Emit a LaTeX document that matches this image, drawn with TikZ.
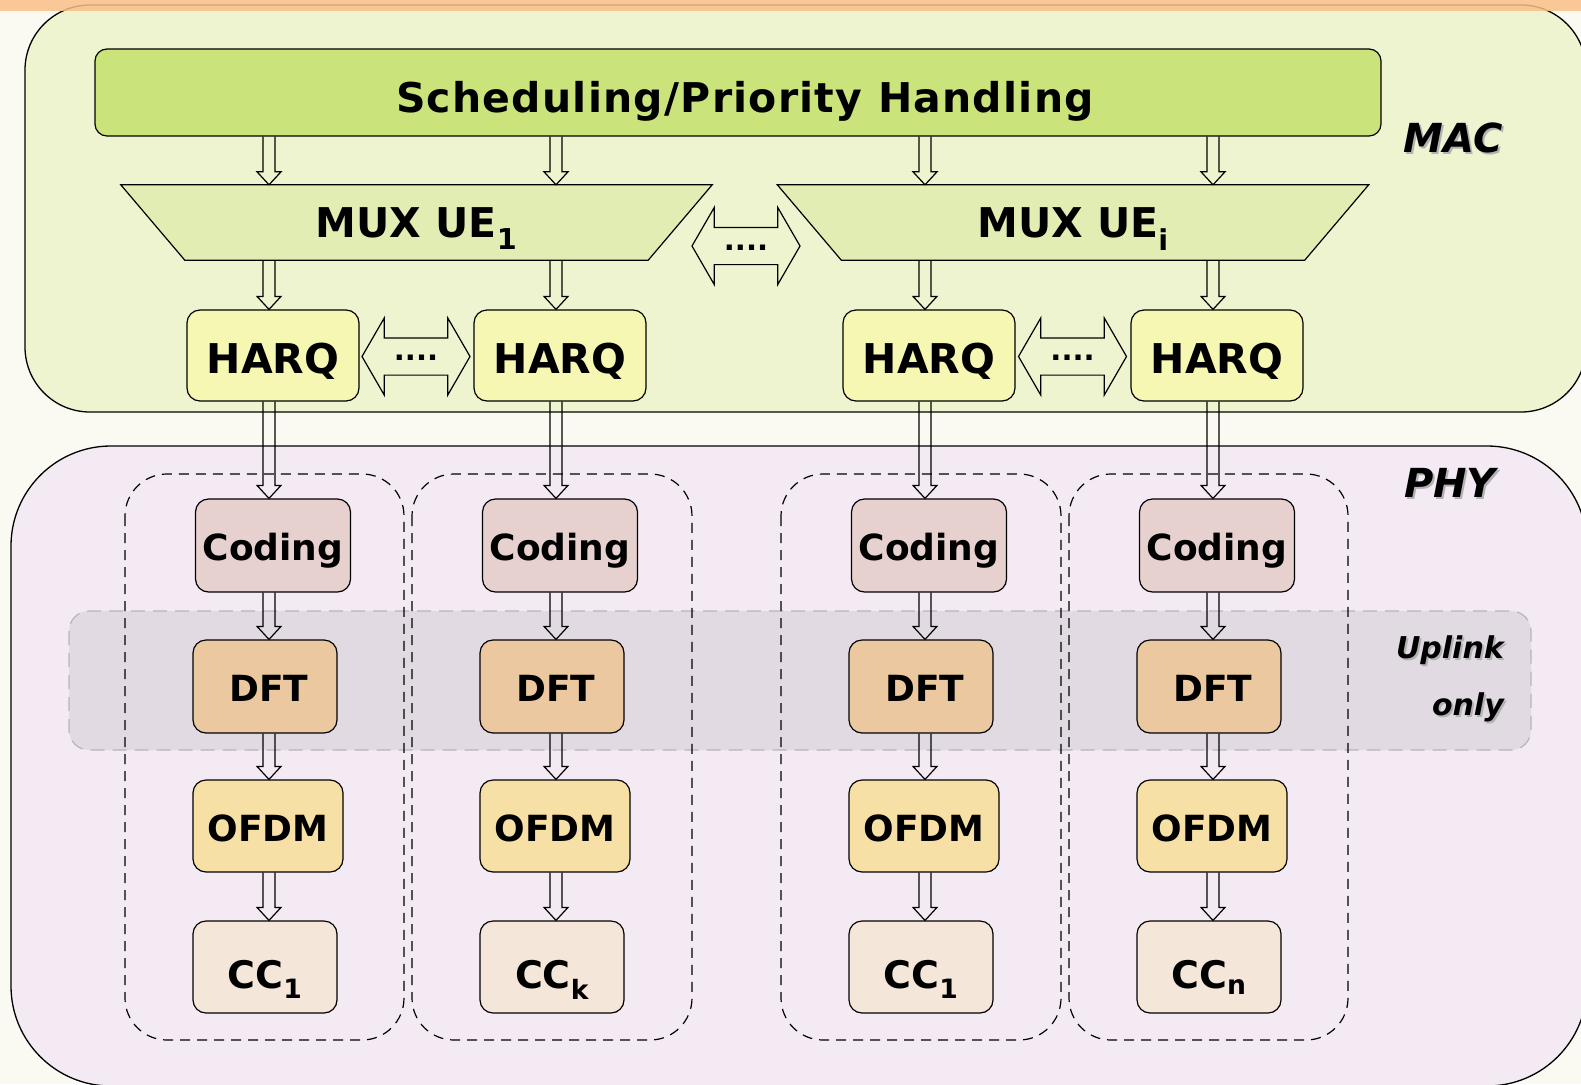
\documentclass[tikz,border=0pt]{standalone}
\usepackage{fontspec}
\setmainfont{DejaVu Sans}
\usetikzlibrary{positioning, calc, shapes.arrows, backgrounds}

\definecolor{PageBg}{RGB}{250,250,242}
\definecolor{TopStrip}{RGB}{250,191,136}
\definecolor{MacBg}{RGB}{237,244,207}
\definecolor{PhyBg}{RGB}{244,234,243}
\definecolor{SchedGreen}{RGB}{202,227,123}
\definecolor{MuxGreen}{RGB}{226,237,179}
\definecolor{HarqYellow}{RGB}{245,247,178}
\definecolor{CodingRose}{RGB}{230,209,207}
\definecolor{DftTan}{RGB}{235,200,160}
\definecolor{OfdmSand}{RGB}{247,224,166}
\definecolor{CcPeach}{RGB}{245,230,218}
\definecolor{BandFill}{RGB}{226,218,227}
\definecolor{BandBorder}{RGB}{185,178,195}

\pgfdeclarelayer{back}
\pgfsetlayers{back,background,main}

\newcommand{\shadowed}[1]{\makebox[0pt][l]{\hspace{2pt}\raisebox{-2pt}{\color{black!30}#1}}#1}

% open double-line arrow: column coordinate, from node, to node
\newcommand{\hollowarrow}[3]{%
  \path[hollowline] let \p1=(#1), \p2=(#2.south), \p3=(#3.north) in
    (\x1-6pt,\y2) -- (\x1-6pt,\y3+13pt) -- (\x1-12pt,\y3+13pt) -- (\x1,\y3)
    -- (\x1+12pt,\y3+13pt) -- (\x1+6pt,\y3+13pt) -- (\x1+6pt,\y2);}

\begin{document}
\begin{tikzpicture}[
    x=1pt, y=-1pt,
    blockbox/.style={rectangle, draw, line width=1.2pt, rounded corners=13pt, align=center, inner sep=0pt, text depth=0pt, text height=30pt, font=\bfseries\fontsize{36}{40}\selectfont},
    schedbox/.style={blockbox, fill=SchedGreen, minimum width=1286pt, minimum height=87pt, rounded corners=12pt, text height=40pt, font=\bfseries\fontsize{41}{45}\selectfont\addfontfeatures{LetterSpace=3}},
    muxbox/.style={rectangle, inner sep=0pt, minimum width=463pt, minimum height=75pt, text depth=0pt, text height=30pt, font=\bfseries\fontsize{41}{45}\selectfont},
    muxshape/.style={draw, line width=1.2pt, fill=MuxGreen, line join=miter},
    harqbox/.style={blockbox, fill=HarqYellow, minimum width=172pt, minimum height=91pt, text height=35pt, font=\bfseries\fontsize{41}{45}\selectfont},
    codingbox/.style={blockbox, fill=CodingRose, minimum width=155pt, minimum height=93pt},
    dftbox/.style={blockbox, fill=DftTan, minimum width=144pt, minimum height=93pt},
    ofdmbox/.style={blockbox, fill=OfdmSand, minimum width=150pt, minimum height=92pt},
    ccbox/.style={blockbox, fill=CcPeach, minimum width=144pt, minimum height=92pt, text height=42pt, font=\bfseries\fontsize{38}{42}\selectfont},
    dotsarrow/.style={double arrow, draw, line width=1.2pt, minimum height=108pt, minimum width=76pt, double arrow head extend=20pt, double arrow head indent=0pt, double arrow tip angle=120, inner sep=0pt, text height=22pt, text depth=14pt, font=\bfseries\fontsize{29}{29}\selectfont},
    hollowline/.style={draw, line width=1.2pt, line join=miter},
    layerlabel/.style={inner sep=0pt, text depth=0pt, text height=29pt, font=\bfseries\itshape\fontsize{40}{44}\selectfont},
    bandlabel/.style={inner sep=0pt, anchor=base east, font=\bfseries\itshape\fontsize{30}{34}\selectfont},
    groupbox/.style={draw, dash pattern=on 10pt off 7pt, line width=1.2pt, rounded corners=42pt},
    bandbox/.style={draw=BandBorder, fill=BandFill, dash pattern=on 14pt off 8pt, line width=1.2pt, rounded corners=20pt}
]
    \useasboundingbox (0,0) rectangle (1581,1084);

    % Column axes
    \coordinate (col1) at (269,0);
    \coordinate (col2) at (556,0);
    \coordinate (col3) at (925,0);
    \coordinate (col4) at (1213,0);

    % Layer frames
    \begin{pgfonlayer}{back}
        \fill[PageBg] (0,0) rectangle (1581,1084);
        \draw[fill=MacBg, line width=1.3pt, rounded corners=65pt] (25,5) rectangle (1586,412);
        \draw[fill=PhyBg, line width=1.3pt, rounded corners=100pt] (11,446) rectangle (1587,1086);
        \draw[bandbox] (69,611) rectangle (1531,750);
        \draw[groupbox] (125,474) rectangle (404,1040);
        \draw[groupbox] (412,474) rectangle (692,1040);
        \draw[groupbox] (781,474) rectangle (1061,1040);
        \draw[groupbox] (1069,474) rectangle (1348,1040);
    \end{pgfonlayer}

    % MAC layer
    \node (sched) [schedbox] at (738,92.5) {\hspace*{14pt}Scheduling/Priority Handling};
    \node (mux1) [muxbox] at (416.5,222.5) {MUX UE\textsubscript{1}};
    \node (mux2) [muxbox] at (1073,222.5) {MUX UE\textsubscript{i}};
    \node (muxdots) [dotsarrow] at (746,246) {....};

    \node (harq1) [harqbox] at (273,355.5) {HARQ};
    \node (harq2) [harqbox] at (560,355.5) {HARQ};
    \node (harq3) [harqbox] at (929,355.5) {HARQ};
    \node (harq4) [harqbox] at (1217,355.5) {HARQ};
    \node (harqdotsA) [dotsarrow] at (416,356.5) {....};
    \node (harqdotsB) [dotsarrow] at (1072.5,356.5) {....};

    % PHY layer: Coding
    \node (coding1) [codingbox] at (273,545.5) {Coding};
    \node (coding2) [codingbox] at (560,545.5) {Coding};
    \node (coding3) [codingbox] at (929,545.5) {Coding};
    \node (coding4) [codingbox] at (1217,545.5) {Coding};

    % PHY layer: DFT
    \node (dft1) [dftbox] at (265,686.5) {\hspace*{8pt}DFT};
    \node (dft2) [dftbox] at (552,686.5) {\hspace*{8pt}DFT};
    \node (dft3) [dftbox] at (921,686.5) {\hspace*{8pt}DFT};
    \node (dft4) [dftbox] at (1209,686.5) {\hspace*{8pt}DFT};

    % PHY layer: OFDM
    \node (ofdm1) [ofdmbox] at (268,826) {OFDM};
    \node (ofdm2) [ofdmbox] at (555,826) {OFDM};
    \node (ofdm3) [ofdmbox] at (924,826) {OFDM};
    \node (ofdm4) [ofdmbox] at (1212,826) {OFDM};

    % Component carriers
    \node (cc1) [ccbox] at (265,967) {CC\textsubscript{1}};
    \node (cc2) [ccbox] at (552,967) {CC\textsubscript{k}};
    \node (cc3) [ccbox] at (921,967) {CC\textsubscript{1}};
    \node (cc4) [ccbox] at (1209,967) {CC\textsubscript{n}};

    % Layer labels
    \node (maclabel) [layerlabel] at (1453,138) {\shadowed{MAC}};
    \node (phylabel) [layerlabel] at (1450,483) {\shadowed{PHY}};
    \node (uplinklabel) [bandlabel] at (1504,658) {\shadowed{Uplink}};
    \node (onlylabel) [bandlabel] at (1504,715) {\shadowed{only}};

    % MUX shapes
    \begin{scope}[on background layer]
        \draw[muxshape] (mux1.south west) -- (mux1.south east) -- ([xshift=64pt]mux1.north east) -- ([xshift=-64pt]mux1.north west) -- cycle;
        \draw[muxshape] (mux2.south west) -- (mux2.south east) -- ([xshift=64pt]mux2.north east) -- ([xshift=-64pt]mux2.north west) -- cycle;
    \end{scope}

    % Connections
    \hollowarrow{col1}{sched}{mux1}
    \hollowarrow{col2}{sched}{mux1}
    \hollowarrow{col3}{sched}{mux2}
    \hollowarrow{col4}{sched}{mux2}

    \hollowarrow{col1}{mux1}{harq1}
    \hollowarrow{col2}{mux1}{harq2}
    \hollowarrow{col3}{mux2}{harq3}
    \hollowarrow{col4}{mux2}{harq4}

    \hollowarrow{col1}{harq1}{coding1}
    \hollowarrow{col2}{harq2}{coding2}
    \hollowarrow{col3}{harq3}{coding3}
    \hollowarrow{col4}{harq4}{coding4}

    \hollowarrow{col1}{coding1}{dft1}
    \hollowarrow{col2}{coding2}{dft2}
    \hollowarrow{col3}{coding3}{dft3}
    \hollowarrow{col4}{coding4}{dft4}

    \hollowarrow{col1}{dft1}{ofdm1}
    \hollowarrow{col2}{dft2}{ofdm2}
    \hollowarrow{col3}{dft3}{ofdm3}
    \hollowarrow{col4}{dft4}{ofdm4}

    \hollowarrow{col1}{ofdm1}{cc1}
    \hollowarrow{col2}{ofdm2}{cc2}
    \hollowarrow{col3}{ofdm3}{cc3}
    \hollowarrow{col4}{ofdm4}{cc4}

    % Top strip
    \fill[TopStrip, opacity=0.85] (0,0) rectangle (1581,11);

\end{tikzpicture}
\end{document}
